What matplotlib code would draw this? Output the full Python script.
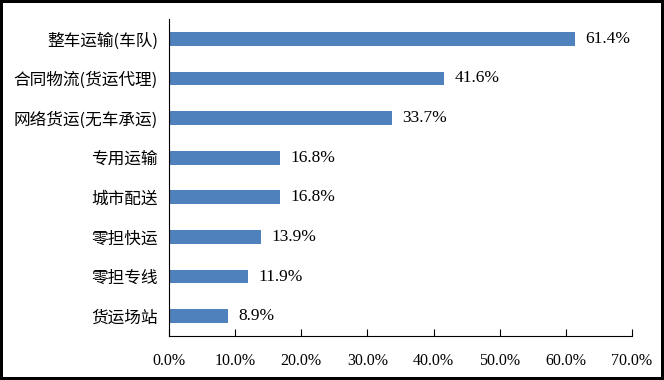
import matplotlib
matplotlib.use("Agg")
import matplotlib.pyplot as plt
from matplotlib.ticker import FuncFormatter

categories = ["整车运输(车队)", "合同物流(货运代理)", "网络货运(无车承运)", "专用运输",
              "城市配送", "零担快运", "零担专线", "货运场站"]
values = [61.4, 41.6, 33.7, 16.8, 16.8, 13.9, 11.9, 8.9]
xticks = [0, 10, 20, 30, 40, 50, 60, 70]

fig = plt.figure(figsize=(6.64, 3.8), dpi=100, linewidth=4, edgecolor="black")
ax = fig.add_axes([169 / 664, 44 / 380, 463 / 664, 317 / 380])

ypos = list(range(len(categories)))
ax.barh(ypos, values, height=0.35, color="#4F81BD")
ax.set_ylim(len(categories) - 0.5, -0.5)
ax.set_xlim(0, 70)

# value labels at bar ends
for y, v in zip(ypos, values):
    ax.text(v + 1.6, y, f"{v:.1f}%", va="center", ha="left",
            fontsize=12.5, family="Liberation Serif")

ax.set_yticks(ypos)
ax.set_yticklabels(categories, family="Noto Sans CJK SC", fontsize=12)
ax.tick_params(axis="y", length=0, pad=8)

ax.set_xticks(xticks)
ax.xaxis.set_major_formatter(FuncFormatter(lambda x, p: f"{x:.1f}%"))
for lbl in ax.get_xticklabels():
    lbl.set_family("Liberation Serif")
    lbl.set_fontsize(11.5)
ax.tick_params(axis="x", direction="in", length=5, pad=12, width=0.8)

ax.spines["top"].set_visible(False)
ax.spines["right"].set_visible(False)
ax.spines["left"].set_linewidth(0.8)
ax.spines["bottom"].set_linewidth(0.8)

fig.savefig("out.png", dpi=100, edgecolor=fig.get_edgecolor())
